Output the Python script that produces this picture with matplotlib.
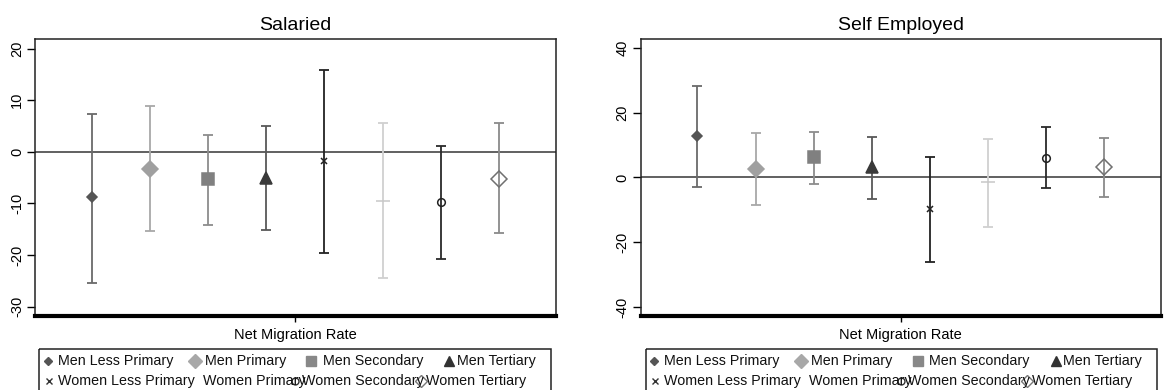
import numpy as np
import matplotlib
matplotlib.use("Agg")
import matplotlib.pyplot as plt
from matplotlib.patches import Rectangle

plt.rcParams['font.family'] = ['Liberation Sans', 'DejaVu Sans']

# ── data ──────────────────────────────────────
groups = ["Men Less Primary", "Men Primary", "Men Secondary", "Men Tertiary",
          "Women Less Primary", "Women Primary", "Women Secondary", "Women Tertiary"]

sal_est   = [-8.7, -3.3, -5.3, -5.0, -1.8, -9.5, -9.7, -5.2]
sal_upper = [7.4, 8.8, 3.3, 4.9, 15.8, 5.6, 1.2, 5.6]
sal_lower = [-25.4, -15.3, -14.2, -15.1, -19.6, -24.4, -20.7, -15.8]

self_est   = [12.8, 2.5, 6.3, 3.1, -9.8, -1.5, 6.1, 3.3]
self_upper = [28.1, 13.6, 14.0, 12.6, 6.3, 11.8, 15.5, 12.3]
self_lower = [-3.1, -8.6, -1.9, -6.8, -26.0, -15.3, -3.4, -6.0]

sal_ticks  = [-30, -20, -10, 0, 10, 20]
self_ticks = [-40, -20, 0, 20, 40]

# ── styles ────────────────────────────────────
BAR_COL  = ["#6a6a6a", "#a8a8a8", "#8c8c8c", "#585858",
            "#222222", "#d0d0d0", "#2a2a2a", "#8a8a8a"]
MK       = ["D", "D", "s", "^", "x", "_", "o", "D"]
MK_SIZE  = [5.5, 8.5, 8, 8, 5, 10, 5.5, 8]
MK_FACE  = ["#555555", "#a0a0a0", "#808080", "#3a3a3a",
            "#222222", "#c8c8c8", "none", "none"]
MK_EDGE  = ["#555555", "#a0a0a0", "#808080", "#3a3a3a",
            "#222222", "#c8c8c8", "#222222", "#707070"]

W, H = 1168, 390
XPOS = 0.109 + 0.1117 * np.arange(8)


def draw_panel(ax, est, upper, lower, ticks, ylim, title):
    ax.axhline(0, color="#606060", lw=1.4, zorder=1)
    for i in range(len(est)):
        ax.errorbar(XPOS[i], est[i],
                    yerr=[[est[i] - lower[i]], [upper[i] - est[i]]],
                    fmt="none", ecolor=BAR_COL[i], elinewidth=1.3,
                    capsize=3.5, capthick=1.3, zorder=2)
        ax.plot(XPOS[i], est[i], marker=MK[i], ms=MK_SIZE[i],
                mfc=MK_FACE[i], mec=MK_EDGE[i], mew=1.1, ls="none", zorder=3)
    ax.set_xlim(0, 1)
    ax.set_ylim(*ylim)
    ax.set_yticks(ticks)
    ax.set_yticklabels([str(t) for t in ticks], rotation=90, va="center")
    ax.set_xticks([0.5])
    ax.set_xticklabels(["Net Migration Rate"])
    ax.tick_params(axis="y", length=6, width=1, pad=2, labelsize=10.5)
    ax.tick_params(axis="x", length=4, width=1, pad=5, labelsize=10.5)
    for s in ["top", "right", "left"]:
        ax.spines[s].set_linewidth(1.1)
        ax.spines[s].set_color("#222222")
    ax.spines["bottom"].set_linewidth(3)
    ax.spines["bottom"].set_color("black")
    ax.set_title(title, fontsize=14, pad=6)


fig = plt.figure(figsize=(W / 100, H / 100), dpi=100)
ax1 = fig.add_axes([35 / W, 1 - 316 / H, (555.7 - 35) / W, (316 - 38.7) / H])
ax2 = fig.add_axes([640.7 / W, 1 - 315.5 / H, (1161 - 640.7) / W, (315.5 - 38.7) / H])

draw_panel(ax1, sal_est, sal_upper, sal_lower, sal_ticks, (-31.8, 21.9), "Salaried")
draw_panel(ax2, self_est, self_upper, self_lower, self_ticks, (-42.6, 42.8), "Self Employed")

# ── legends (pixel overlay) ───────────────────
lg = fig.add_axes([0, 0, 1, 1], zorder=5)
lg.set_xlim(0, W)
lg.set_ylim(H, 0)
lg.axis("off")

LEG_MK   = ["D", "D", "s", "^", "x", None, "o", "D"]
LEG_SIZE = [4.5, 7, 6.5, 6.5, 5, 0, 5, 6.5]
LEG_FACE = ["#555555", "#a8a8a8", "#888888", "#333333", "#333333", "none", "none", "none"]
LEG_EDGE = ["#555555", "#a8a8a8", "#888888", "#333333", "#333333", "none", "#333333", "#777777"]
MK_OFF   = [8.7, 155.7, 272, 410, 9.7, 0, 255.7, 381.7]
TX_OFF   = [18.3, 165.7, 283.7, 417.7, 18.3, 163.7, 262.7, 386.7]
ROW_Y    = [361, 381]

for x0, x1 in [(39.3, 551), (645.7, 1157)]:
    lg.add_patch(Rectangle((x0, 349), x1 - x0, 60, fill=False,
                           ec="#222222", lw=1.1, clip_on=False))
    for i, name in enumerate(groups):
        y = ROW_Y[i // 4]
        if LEG_MK[i] is not None:
            lg.plot(x0 + MK_OFF[i], y, marker=LEG_MK[i], ms=LEG_SIZE[i],
                    mfc=LEG_FACE[i], mec=LEG_EDGE[i], mew=1, ls="none")
        lg.text(x0 + TX_OFF[i], y, name, fontsize=10.3, va="center",
                ha="left", color="#111111")

fig.savefig("out.png", dpi=100)
